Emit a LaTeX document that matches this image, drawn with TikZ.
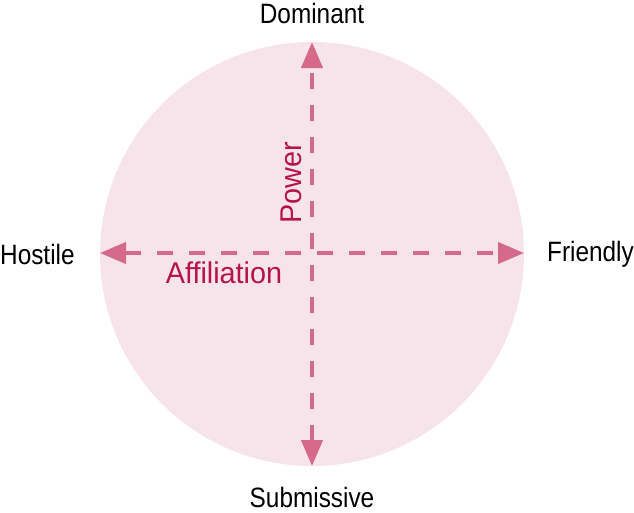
\documentclass[tikz,border=0pt]{standalone}
\usepackage{fontspec}
\setmainfont{Liberation Sans}
\usetikzlibrary{arrows.meta}
\definecolor{circfill}{HTML}{F6E4EA}
\definecolor{axiscol}{HTML}{D4698A}
\definecolor{labcol}{HTML}{B5134A}
\tikzset{
  axis/.style={draw=axiscol, line width=4pt, dash pattern=on 16pt off 16pt,
    {Triangle[length=26pt,width=21pt]}-{Triangle[length=26pt,width=21pt]}},
  pole/.style={inner sep=0pt, font=\fontsize{28pt}{30pt}\selectfont, text=black, xscale=0.87},
  axlab/.style={inner sep=0pt, font=\fontsize{30pt}{32pt}\selectfont, text=labcol}
}
\begin{document}
\begin{tikzpicture}[x=1pt,y=-1pt]
\useasboundingbox (0,0) rectangle (634,512);
\node[circle, fill=circfill, minimum size=424pt, inner sep=0pt] (c) at (312,254) {};
\coordinate (top) at (312,42);
\coordinate (bot) at (312,466);
\coordinate (lft) at (100,253);
\coordinate (rgt) at (524,253);
\draw[axis] (bot) -- (top);
\draw[axis] (lft) -- (rgt);
\node[pole] (dom) at (312,13) {Dominant};
\node[pole] (sub) at (312,497) {Submissive};
\node[pole, anchor=west] (hos) at (0,254) {Hostile};
\node[pole, anchor=east] (fri) at (634,254) {Friendly};
\node[axlab, rotate=90, xscale=0.96] (pow) at (291,183) {Power};
\node[axlab, xscale=0.96] (aff) at (224,273) {Affiliation};
\end{tikzpicture}
\end{document}
